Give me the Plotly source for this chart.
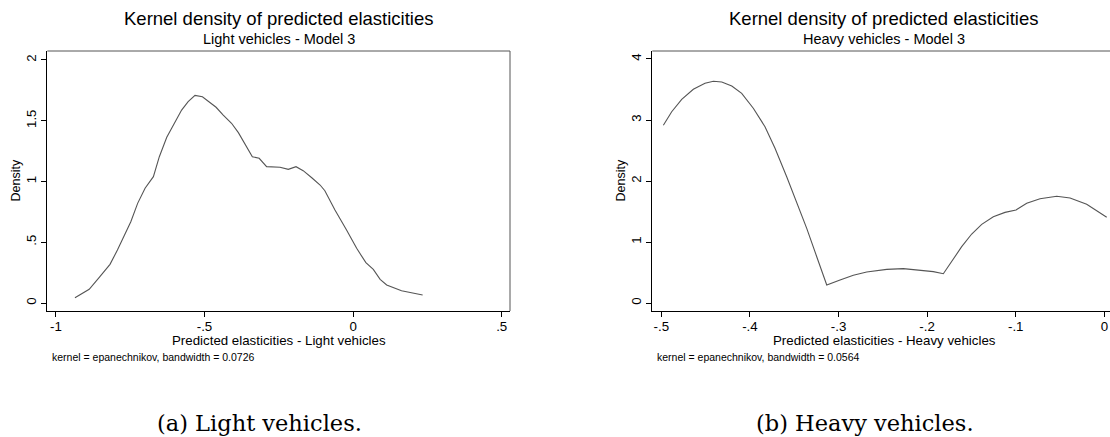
import plotly.graph_objects as go

W, H = 1110, 437

# ---------------- data ----------------
light_x = [-0.936, -0.888, -0.852, -0.818, -0.793, -0.771, -0.748, -0.725, -0.700, -0.672,
           -0.652, -0.627, -0.599, -0.577, -0.555, -0.532, -0.507, -0.487, -0.461, -0.437,
           -0.409, -0.386, -0.364, -0.339, -0.316, -0.291, -0.246, -0.218, -0.192, -0.168,
           -0.139, -0.111, -0.095, -0.061, -0.022, 0.012, 0.043, 0.068, 0.091, 0.113,
           0.163, 0.234]
light_y = [0.044, 0.113, 0.217, 0.318, 0.436, 0.546, 0.669, 0.820, 0.944, 1.040,
           1.204, 1.364, 1.492, 1.588, 1.657, 1.709, 1.698, 1.657, 1.611, 1.547,
           1.479, 1.402, 1.314, 1.204, 1.191, 1.122, 1.117, 1.100, 1.122, 1.089,
           1.031, 0.971, 0.924, 0.765, 0.601, 0.450, 0.332, 0.277, 0.195, 0.148,
           0.101, 0.066]

heavy_x = [-0.4977, -0.4883, -0.4770, -0.4639, -0.4507, -0.4413, -0.4318, -0.4205, -0.4093,
           -0.3962, -0.3830, -0.3717, -0.3585, -0.3472, -0.3359, -0.3246, -0.3133, -0.2983,
           -0.2833, -0.2682, -0.2456, -0.2269, -0.2080, -0.1930, -0.1817, -0.1722, -0.1610,
           -0.1497, -0.1384, -0.1253, -0.1121, -0.0997, -0.0876, -0.0726, -0.0537, -0.0387,
           -0.0199, 0.0027]
heavy_y = [2.913, 3.136, 3.339, 3.503, 3.601, 3.634, 3.623, 3.557, 3.437,
           3.192, 2.890, 2.536, 2.071, 1.661, 1.224, 0.759, 0.295, 0.377,
           0.454, 0.508, 0.552, 0.563, 0.541, 0.514, 0.480, 0.678, 0.923,
           1.131, 1.290, 1.415, 1.486, 1.525, 1.634, 1.710, 1.749, 1.721,
           1.618, 1.405]

light_xticks = [-1, -0.5, 0, 0.5]
light_xticklabels = ["-1", "-.5", "0", ".5"]
light_yticks = [0, 0.5, 1, 1.5, 2]
light_yticklabels = ["0", ".5", "1", "1.5", "2"]
heavy_xticks = [-0.5, -0.4, -0.3, -0.2, -0.1, 0]
heavy_xticklabels = ["-.5", "-.4", "-.3", "-.2", "-.1", "0"]
heavy_yticks = [0, 1, 2, 3, 4]
heavy_yticklabels = ["0", "1", "2", "3", "4"]

title_text = "Kernel density of predicted elasticities"
light_sub = "Light vehicles - Model 3"
heavy_sub = "Heavy vehicles - Model 3"
light_xtitle = "Predicted elasticities - Light vehicles"
heavy_xtitle = "Predicted elasticities - Heavy vehicles"
light_note = "kernel = epanechnikov, bandwidth = 0.0726"
heavy_note = "kernel = epanechnikov, bandwidth = 0.0564"
cap_a = "(a) Light vehicles."
cap_b = "(b) Heavy vehicles."

# ---------------- layout helpers ----------------
def px(x):
    return x / W

def py(y):
    return 1 - y / H

SANS = "Liberation Sans, Arial, sans-serif"
SERIF = "DejaVu Serif, serif"
LINE = "#555555"

L_left, L_right = 47.3, 510.0
R_left = 652.3
P_top, P_bot = 51.0, 311.0

fig = go.Figure()
fig.add_trace(go.Scatter(x=light_x, y=light_y, mode="lines",
                         line=dict(color=LINE, width=1.1), xaxis="x", yaxis="y",
                         showlegend=False, hoverinfo="skip"))
fig.add_trace(go.Scatter(x=heavy_x, y=heavy_y, mode="lines",
                         line=dict(color=LINE, width=1.1), xaxis="x2", yaxis="y2",
                         showlegend=False, hoverinfo="skip"))

axis_common = dict(showline=True, linecolor="black", linewidth=1.3, ticks="outside",
                   ticklen=5, tickwidth=1, tickcolor="black", showgrid=False,
                   zeroline=False, tickfont=dict(family=SANS, size=13.3, color="black"))

fig.update_layout(
    width=W, height=H,
    autosize=False,
    paper_bgcolor="white", plot_bgcolor="white",
    margin=dict(l=0, r=0, t=0, b=0),
    xaxis=dict(domain=[px(L_left), px(L_right)], range=[-1.029, 0.528],
               tickmode="array", tickvals=light_xticks, ticktext=light_xticklabels,
               anchor="y", ticklabelstandoff=-2, **axis_common),
    yaxis=dict(domain=[py(P_bot), py(P_top)], range=[-0.0658, 2.074],
               tickmode="array", tickvals=light_yticks, ticktext=light_yticklabels,
               tickangle=-90, anchor="x", **axis_common),
    xaxis2=dict(domain=[px(R_left), 1.0], range=[-0.5102, 0.0064],
                tickmode="array", tickvals=heavy_xticks, ticktext=heavy_xticklabels,
                anchor="y2", ticklabelstandoff=-2, **axis_common),
    yaxis2=dict(domain=[py(P_bot), py(P_top)], range=[-0.131, 4.131],
                tickmode="array", tickvals=heavy_yticks, ticktext=heavy_yticklabels,
                tickangle=-90, anchor="x2", **axis_common),
)

# plot region borders (top/right)
shapes = [
    dict(type="line", xref="paper", yref="paper", x0=px(L_left), x1=px(L_right),
         y0=py(P_top), y1=py(P_top), line=dict(color="#555555", width=1)),
    dict(type="line", xref="paper", yref="paper", x0=px(L_right), x1=px(L_right),
         y0=py(P_top), y1=py(P_bot), line=dict(color="#555555", width=1)),
    dict(type="line", xref="paper", yref="paper", x0=px(R_left), x1=1.0,
         y0=py(P_top), y1=py(P_top), line=dict(color="#555555", width=1)),
]
fig.update_layout(shapes=shapes)

def ann(text, x, y, size, family=SANS, xanchor="center", angle=0):
    return dict(text=text, x=px(x), y=py(y), xref="paper", yref="paper",
                xanchor=xanchor, yanchor="middle", showarrow=False, textangle=angle,
                font=dict(family=family, size=size, color="black"))

annotations = [
    ann(title_text, 279, 18.5, 18.5),
    ann(light_sub, 279, 39.5, 14.5),
    ann(title_text, 884, 18.5, 18.5),
    ann(heavy_sub, 884, 39.5, 14.5),
    ann(light_xtitle, 279, 340, 13.3),
    ann(heavy_xtitle, 884, 340, 13.3),
    ann("Density", 15.5, 181, 12.5, angle=-90),
    ann("Density", 620.5, 181, 12.5, angle=-90),
    ann(light_note, 50, 357, 10.5, xanchor="left"),
    ann(heavy_note, 655, 357, 10.5, xanchor="left"),
    ann(cap_a, 259.5, 423, 22.5, family=SERIF),
    ann(cap_b, 864.5, 423, 22.5, family=SERIF),
]
fig.update_layout(annotations=annotations)

fig.write_html("out.html", config={"displayModeBar": False},
               post_script="document.body.style.margin='0';document.body.style.overflow='hidden';")
